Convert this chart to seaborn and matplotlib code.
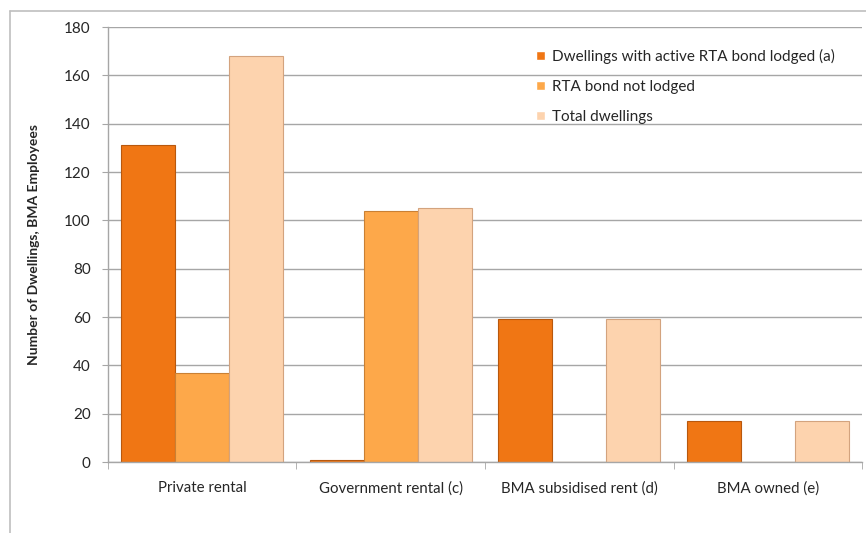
import pandas as pd
import numpy as np
import matplotlib.pyplot as plt
import seaborn as sns
from matplotlib.lines import Line2D

# data
categories = ["Private rental", "Government rental (c)", "BMA subsidised rent (d)", "BMA owned (e)"]
series_names = ["Dwellings with active RTA bond lodged (a)", "RTA bond not lodged", "Total dwellings"]
active_lodged = [131, 1, 59, 17]
not_lodged = [37, 104, 0, 0]
total_dwellings = [168, 105, 59, 17]
colors = ["#F07614", "#FDA84A", "#FDD3AE"]
edge_colors = ["#B8580E", "#C98034", "#D3A37E"]

df = pd.DataFrame({
    "Category": categories * 3,
    "Series": [series_names[0]] * 4 + [series_names[1]] * 4 + [series_names[2]] * 4,
    "Value": active_lodged + not_lodged + total_dwellings,
})

sns.set_style("white")
plt.rcParams["font.family"] = ["Lato", "DejaVu Sans"]

fig = plt.figure(figsize=(8.66, 5.33), dpi=100)
ax = fig.add_axes([0.1247, 0.1332, 0.8707, 0.8161])

sns.barplot(data=df, x="Category", y="Value", hue="Series", order=categories,
            hue_order=series_names, palette=colors, width=0.86, gap=0,
            saturation=1, ax=ax, legend=True)

# bar outlines per series
for cont, ec in zip(ax.containers, edge_colors):
    for bar in cont:
        bar.set_edgecolor(ec)
        bar.set_linewidth(0.8)

ax.set_ylim(0, 180)
ax.set_yticks(np.arange(0, 181, 20))
ax.set_xlim(-0.5, len(categories) - 0.5)
ax.yaxis.grid(True, color="#A6A6A6", linewidth=1)
ax.set_axisbelow(True)
for s in ["top", "right"]:
    ax.spines[s].set_visible(False)
for s in ["left", "bottom"]:
    ax.spines[s].set_color("#A6A6A6")
    ax.spines[s].set_linewidth(1)

ax.tick_params(axis="y", length=4.5, color="#A6A6A6", labelsize=11, pad=8, left=True)
ax.tick_params(axis="x", length=0, labelsize=10.8, pad=14)
ax.set_xticks(np.arange(-0.5, len(categories), 1), minor=True)
ax.tick_params(axis="x", which="minor", length=5, color="#A6A6A6", bottom=True)

ax.set_xlabel("")
ax.set_ylabel("Number of Dwellings, BMA Employees", fontsize=10, fontweight="bold")
ax.yaxis.set_label_coords(-0.09, 0.5)

leg = ax.legend(loc="upper left", bbox_to_anchor=(0.568, 0.950), frameon=False,
                fontsize=11, handlelength=0.6, handleheight=0.6, handletextpad=0.4,
                labelspacing=1.05, borderpad=0, borderaxespad=0)

# outer chart border (top and left edges visible)
fig.add_artist(Line2D([10 / 866, 1], [1 - 11 / 533] * 2, color="#BFBFBF", linewidth=1.2,
                      transform=fig.transFigure))
fig.add_artist(Line2D([10 / 866] * 2, [0, 1 - 11 / 533], color="#BFBFBF", linewidth=1.2,
                      transform=fig.transFigure))

fig.savefig("out.png", dpi=100)
